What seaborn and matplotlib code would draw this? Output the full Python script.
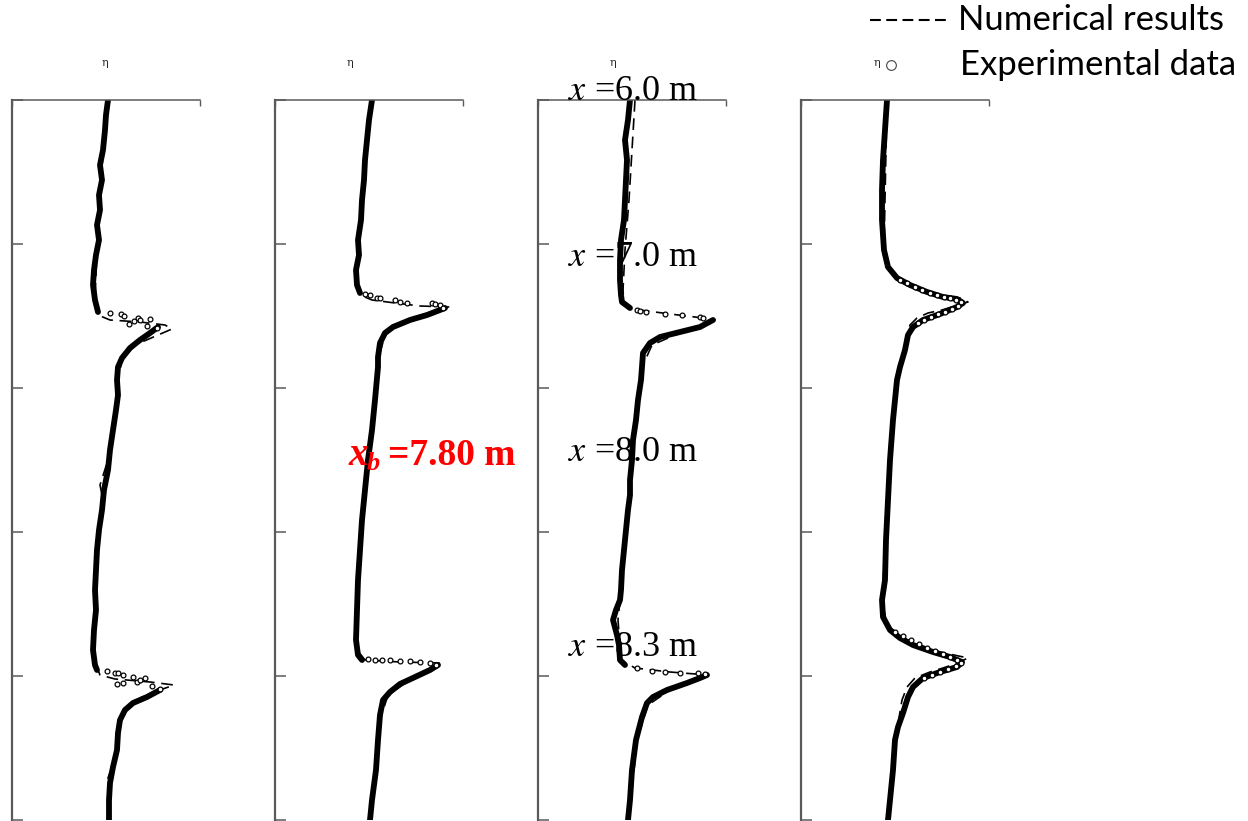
import numpy as np
import pandas as pd
import matplotlib
matplotlib.use("Agg")
import matplotlib.pyplot as plt
from matplotlib.lines import Line2D
import seaborn as sns

# ---------------- data (t downward, eta across) ----------------
# experimental trace segments per panel (t, eta)
P1_EXP_T = [[0, .15, .3, .5, .65, .8, .95, 1.1, 1.25, 1.4, 1.55, 1.7, 1.85, 2.0, 2.12],
            [2.27, 2.33, 2.40, 2.48, 2.58, 2.67, 2.80, 2.95, 3.10, 3.30, 3.50, 3.70, 3.90, 4.10, 4.30, 4.50, 4.70, 4.90, 5.10, 5.30, 5.50, 5.65, 5.70],
            [5.90, 5.97, 6.03, 6.10, 6.20, 6.33, 6.50, 6.67, 6.83, 7.00, 7.20]]
P1_EXP_ETA = [[.02, 0, -.01, -.03, -.06, -.04, -.07, -.06, -.09, -.07, -.10, -.12, -.13, -.11, -.08],
              [.52, .44, .34, .24, .16, .12, .11, .12, .10, .07, .04, .02, -.02, -.04, -.07, -.09, -.10, -.11, -.10, -.12, -.13, -.11, -.09],
              [.54, .41, .27, .19, .14, .12, .11, .07, .04, .03, .03]]
P1_DOT_T = [2.13, 2.14, 2.16, 2.24, 2.21, 2.18, 2.20, 2.26, 2.19, 2.28,
            5.71, 5.73, 5.73, 5.75, 5.84, 5.83, 5.77, 5.82, 5.80, 5.78, 5.86, 5.89]
P1_DOT_ETA = [.04, .15, .18, .23, .28, .32, .34, .41, .44, .51,
              .01, .09, .12, .17, .11, .17, .27, .31, .34, .39, .46, .54]
P1_NUM_T = [0, 0.5, 1.0, 1.5, 2.0, 2.15, 2.2, 2.22, 2.25, 2.29, 2.35, 2.45, 2.6, 2.8, 3.2, 3.6, 3.85, 4.0, 4.4, 5.0, 5.6,
            5.75, 5.79, 5.82, 5.85, 5.9, 6.0, 6.15, 6.4, 6.6, 6.78, 7.0, 7.2]
P1_NUM_ETA = [.02, -.03, -.06, -.09, -.11, -.08, .04, .34, .59, .66, .52, .29, .16, .12, .08, .02, -.06, -.03, -.08, -.10, -.12,
              -.06, .09, .44, .68, .54, .29, .16, .12, .08, .02, .03, .03]

P2_EXP_T = [[0, .2, .4, .6, .8, 1.0, 1.2, 1.4, 1.55, 1.7, 1.85, 1.93],
            [2.08, 2.10, 2.15, 2.20, 2.27, 2.33, 2.43, 2.57, 2.67, 3.00, 3.30, 3.60, 3.90, 4.20, 4.50, 4.80, 5.10, 5.40, 5.55, 5.60],
            [5.65, 5.70, 5.77, 5.84, 5.92, 6.00, 6.15, 6.40, 6.70, 7.00, 7.20]]
P2_EXP_ETA = [[.03, .0, -.02, -.04, -.05, -.07, -.08, -.11, -.10, -.13, -.12, -.09],
              [.76, .71, .58, .41, .24, .16, .11, .09, .09, .06, .03, -.01, -.04, -.07, -.09, -.11, -.12, -.13, -.11, -.07],
              [.69, .61, .46, .31, .21, .14, .11, .09, .07, .03, .01]]
P2_DOT_T = [1.94, 1.95, 1.98, 1.98, 2.00, 2.02, 2.03, 2.03, 2.04, 2.05, 2.08,
            5.59, 5.60, 5.60, 5.60, 5.61, 5.61, 5.62, 5.63, 5.65]
P2_DOT_ETA = [-.04, .01, .08, .11, .26, .31, .38, .63, .66, .71, .74,
              -.01, .06, .13, .21, .31, .41, .51, .61, .67]
P2_NUM_T = [0, 1.0, 1.8, 1.95, 2.0, 2.03, 2.06, 2.07, 2.12, 2.18, 2.25, 2.35, 2.6, 3.6, 4.6, 5.5,
            5.6, 5.62, 5.63, 5.68, 5.8, 5.95, 6.2, 7.2]
P2_NUM_ETA = [.03, -.08, -.12, -.09, .03, .26, .51, .81, .69, .49, .29, .16, .09, -.01, -.10, -.12,
              -.04, .31, .71, .63, .41, .19, .11, .01]

P3_EXP_T = [[0, .2, .4, .6, .8, 1.0, 1.2, 1.4, 1.6, 1.8, 1.95, 2.02, 2.08],
            [2.20, 2.27, 2.32, 2.37, 2.43, 2.53, 2.67, 2.80, 3.00, 3.20, 3.40, 3.60, 3.80, 3.95, 4.10, 4.30, 4.50, 4.70, 4.90, 5.00, 5.10, 5.20, 5.35, 5.45, 5.60, 5.65],
            [5.75, 5.78, 5.83, 5.90, 5.97, 6.03, 6.17, 6.40, 6.70, 7.00, 7.20]]
P3_EXP_ETA = [[-.02, -.04, -.07, -.05, -.06, -.07, -.08, -.11, -.12, -.12, -.11, -.10, -.02],
              [.81, .68, .48, .28, .18, .11, .10, .09, .06, .04, .01, 0, -.02, -.02, -.04, -.06, -.08, -.10, -.11, -.12, -.16, -.19, -.15, -.13, -.12, -.07],
              [.75, .68, .55, .35, .21, .15, .10, .04, 0, -.02, -.04]]
P3_DOT_T = [2.10, 2.11, 2.12, 2.14, 2.15, 2.17, 2.18,
            5.68, 5.71, 5.72, 5.73, 5.73, 5.74]
P3_DOT_ETA = [.05, .08, .14, .33, .50, .68, .71,
              .05, .20, .33, .48, .66, .73]
P3_NUM_T = [0, 0.5, 1.0, 1.5, 1.9, 2.05, 2.1, 2.14, 2.17, 2.2, 2.27, 2.35, 2.45, 2.65, 3.4, 3.95, 4.6, 5.2, 5.6,
            5.68, 5.72, 5.75, 5.8, 5.9, 6.05, 6.4, 7.2]
P3_NUM_ETA = [.03, 0, -.03, -.07, -.09, -.08, .08, .38, .63, .83, .70, .43, .20, .11, .02, -.02, -.08, -.14, -.11,
              .03, .38, .76, .66, .38, .16, .05, -.03]

P4_EXP_T = [[0, .3, .6, .9, 1.2, 1.5, 1.67, 1.78, 1.85, 1.92, 1.97, 1.99, 2.03, 2.07, 2.14, 2.20, 2.27, 2.35, 2.50, 2.67, 2.80,
             3.2, 3.6, 4.0, 4.4, 4.8, 5.0, 5.17, 5.30, 5.38, 5.45, 5.52, 5.57, 5.62, 5.67, 5.72, 5.78, 5.87, 5.97, 6.13, 6.27,
             6.40, 6.70, 7.00, 7.20]]
P4_EXP_ETA = [[-.08, -.10, -.12, -.13, -.13, -.11, -.07, .02, .15, .32, .48, .62, .68, .62, .45, .28, .18, .13, .10, .05, .02,
               -.02, -.05, -.07, -.09, -.10, -.13, -.12, -.05, .05, .18, .38, .55, .67, .62, .45, .28, .18, .13, .08, .03,
               0, -.02, -.05, -.07]]
P4_DOT_T = [1.80, 1.83, 1.87, 1.90, 1.93, 1.95, 1.97, 1.98, 2.00, 2.02, 2.06, 2.09, 2.12, 2.14, 2.17, 2.20, 2.23,
            5.32, 5.36, 5.40, 5.44, 5.48, 5.51, 5.54, 5.57, 5.60, 5.63, 5.66, 5.69, 5.72, 5.75, 5.78]
P4_DOT_ETA = [.05, .12, .20, .27, .35, .42, .49, .55, .61, .66, .63, .57, .50, .43, .36, .29, .23,
              .0, .08, .16, .24, .32, .40, .48, .55, .62, .66, .61, .53, .45, .37, .29]
P4_NUM_T = [0, 1.5, 1.67, 1.8, 1.88, 1.95, 1.98, 2.02, 2.06, 2.10, 2.13, 2.18, 2.25, 2.4, 2.8, 4.0, 5.0,
            5.25, 5.38, 5.45, 5.52, 5.58, 5.64, 5.68, 5.72, 5.78, 5.87, 6.0, 6.3, 7.2]
P4_NUM_ETA = [-.08, -.11, -.07, .02, .20, .45, .65, .73, .60, .47, .33, .22, .15, .11, .02, -.07, -.13,
              -.08, .08, .25, .45, .73, .60, .48, .35, .20, .12, .07, .02, -.07]

STATIONS = ["6.0", "7.0", "8.0", "8.3"]
T_TICKS = [0, 1.44, 2.88, 4.32, 5.76, 7.2]
ETA_LIM = [-0.94, 0.94]
T_LIM = [7.2, 0]

# ---------------- figure ----------------
sns.set_style("white")
plt.rcParams["font.family"] = ["Liberation Serif", "DejaVu Sans"]
plt.rcParams["mathtext.fontset"] = "stix"

W, H = 1248, 821
fig = plt.figure(figsize=(W / 100, H / 100), dpi=100)

panels = [
    (12, P1_EXP_T, P1_EXP_ETA, P1_DOT_T, P1_DOT_ETA, P1_NUM_T, P1_NUM_ETA),
    (275, P2_EXP_T, P2_EXP_ETA, P2_DOT_T, P2_DOT_ETA, P2_NUM_T, P2_NUM_ETA),
    (538, P3_EXP_T, P3_EXP_ETA, P3_DOT_T, P3_DOT_ETA, P3_NUM_T, P3_NUM_ETA),
    (801, P4_EXP_T, P4_EXP_ETA, P4_DOT_T, P4_DOT_ETA, P4_NUM_T, P4_NUM_ETA),
]
grey = "#5a5a5a"
for left, et, ee, dt, de, nt, ne in panels:
    ax = fig.add_axes([left / W, 1 / H, 188 / W, 720 / H])
    rows = []
    for k, (ts, es) in enumerate(zip(et, ee)):
        for tv, ev in zip(ts, es):
            rows.append((k, tv, ev))
    df = pd.DataFrame(rows, columns=["seg", "t", "eta"])
    sns.lineplot(data=df, x="eta", y="t", units="seg", estimator=None, sort=False,
                 color="black", lw=4.2, ax=ax, solid_capstyle="round", solid_joinstyle="round")
    sns.lineplot(x=ne, y=nt, estimator=None, sort=False, color="black", lw=1.2,
                 linestyle=(0, (7, 4)), ax=ax)
    sns.scatterplot(x=de, y=dt, s=12, facecolor="white", edgecolor="black",
                    linewidth=0.9, ax=ax, zorder=4)
    ax.set_xlim(*ETA_LIM)
    ax.set_ylim(*T_LIM)
    ax.set_xlabel("")
    ax.set_ylabel("")
    for s in ["right", "bottom"]:
        ax.spines[s].set_visible(False)
    ax.spines["left"].set_color(grey)
    ax.spines["left"].set_linewidth(1.6)
    ax.spines["top"].set_color(grey)
    ax.spines["top"].set_linewidth(1.1)
    ax.xaxis.tick_top()
    ax.set_xticks(ETA_LIM)
    ax.set_yticks(T_TICKS)
    ax.tick_params(axis="y", direction="in", length=8, width=1.1, color=grey,
                   labelleft=False, left=True)
    ax.tick_params(axis="x", direction="in", length=4.5, width=1.0, color=grey,
                   labeltop=False, labelbottom=False, top=True, bottom=False)
    ax.patch.set_alpha(0)

# tiny eta labels above panels
for xp in [105, 350, 613, 877]:
    fig.text(xp / W, 1 - 63 / H, "η", fontsize=8, ha="center", va="center",
             family=["DejaVu Serif"])

# station labels
for st, yp in zip(STATIONS, [92, 257, 452, 647]):
    fig.text(568 / W, 1 - yp / H, r"$x$ =" + st + " m", fontsize=26, ha="left",
             va="center", color="black")

# breaking point label
fig.text(348 / W, 1 - 455 / H, "x", fontsize=28, ha="left", va="center",
         color="red", style="italic", weight="bold")
fig.text(367 / W, 1 - 464 / H, "b", fontsize=19, ha="left", va="center",
         color="red", style="italic", weight="bold")
fig.text(388 / W, 1 - 455 / H, "=7.80 m", fontsize=27, ha="left", va="center",
         color="red", weight="bold")

# legend
fig.add_artist(Line2D([870 / W, 946 / W], [1 - 20 / H, 1 - 20 / H], color="black",
                      lw=1.5, linestyle=(0, (5.2, 2.6)), transform=fig.transFigure))
fig.text(958 / W, 1 - 20 / H, "Numerical results", fontsize=25, family=["Lato"],
         ha="left", va="center", color="black")
fig.add_artist(Line2D([891 / W], [1 - 65 / H], marker="o", ms=7, mfc="white",
                      mec="#444444", mew=0.8, lw=0, transform=fig.transFigure))
fig.text(960 / W, 1 - 65 / H, "Experimental data", fontsize=25, family=["Lato"],
         ha="left", va="center", color="black")

fig.savefig("out.png", dpi=100)
